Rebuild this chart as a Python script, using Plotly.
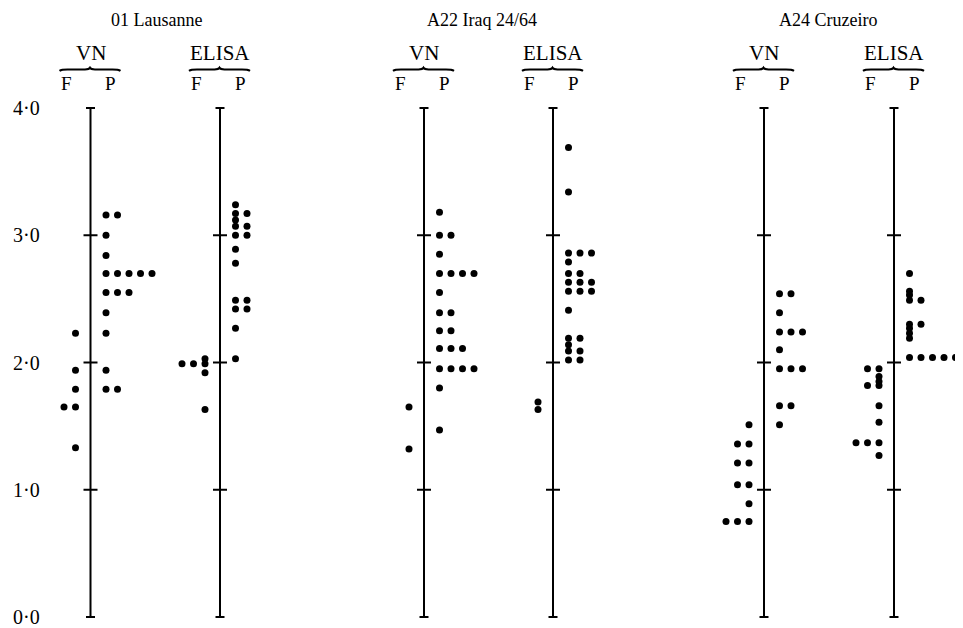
import plotly.graph_objects as go
from collections import Counter

# ---------------- data (log10 titres) ----------------
groups = ["01 Lausanne", "A22 Iraq 24/64", "A24 Cruzeiro"]
methods = ["VN", "ELISA"]
tick_values = [0.0, 1.0, 2.0, 3.0, 4.0]
tick_labels = ["0·0", "1·0", "2·0", "3·0", "4·0"]

lausanne_vn_F = [2.23, 1.94, 1.79, 1.65, 1.65, 1.33]
lausanne_vn_P = [3.16, 3.16, 3.00, 2.84, 2.70, 2.70, 2.70, 2.70, 2.70,
                 2.55, 2.55, 2.55, 2.39, 2.23, 1.94, 1.79, 1.79]
lausanne_elisa_F = [2.03, 1.99, 1.99, 1.99, 1.92, 1.63]
lausanne_elisa_P = [3.24, 3.17, 3.17, 3.12, 3.07, 3.07, 3.00, 3.00, 2.89, 2.78,
                    2.49, 2.49, 2.42, 2.42, 2.27, 2.03]

iraq_vn_F = [1.65, 1.32]
iraq_vn_P = [3.18, 3.00, 3.00, 2.85, 2.70, 2.70, 2.70, 2.70, 2.55, 2.39, 2.39,
             2.25, 2.25, 2.11, 2.11, 2.11, 1.95, 1.95, 1.95, 1.95, 1.80, 1.47]
iraq_elisa_F = [1.69, 1.63]
iraq_elisa_P = [3.69, 3.34, 2.86, 2.86, 2.86, 2.79, 2.70, 2.70, 2.63, 2.63, 2.63,
                2.56, 2.56, 2.56, 2.41, 2.19, 2.19, 2.14, 2.09, 2.09, 2.02, 2.02]

cruzeiro_vn_F = [1.51, 1.36, 1.36, 1.21, 1.21, 1.04, 1.04, 0.89, 0.75, 0.75, 0.75]
cruzeiro_vn_P = [2.54, 2.54, 2.39, 2.24, 2.24, 2.24, 2.10, 1.95, 1.95, 1.95,
                 1.66, 1.66, 1.51]
cruzeiro_elisa_F = [1.95, 1.95, 1.89, 1.85, 1.82, 1.82, 1.66, 1.53,
                    1.37, 1.37, 1.37, 1.27]
cruzeiro_elisa_P = [2.70, 2.56, 2.53, 2.49, 2.49, 2.30, 2.30, 2.27, 2.23, 2.19,
                    2.04, 2.04, 2.04, 2.04, 2.04]

panels = [
    (groups[0], methods[0], lausanne_vn_F, lausanne_vn_P),
    (groups[0], methods[1], lausanne_elisa_F, lausanne_elisa_P),
    (groups[1], methods[0], iraq_vn_F, iraq_vn_P),
    (groups[1], methods[1], iraq_elisa_F, iraq_elisa_P),
    (groups[2], methods[0], cruzeiro_vn_F, cruzeiro_vn_P),
    (groups[2], methods[1], cruzeiro_elisa_F, cruzeiro_elisa_P),
]

# ---------------- layout constants (page pixels) ----------------
PAGE_W, PAGE_H = 963, 628
OFF = 8                      # default body margin of the html page
W, H = PAGE_W - OFF, PAGE_H - OFF
axis_x = [90.5, 220, 424, 553, 764, 894]
title_x = [156, 482, 828]
Y0_PX, Y4_PX = 617, 108          # page rows of 0.0 and 4.0
k = (Y0_PX - Y4_PX) / 4.0
ymax = 4 + (Y4_PX - OFF) / k
ymin = -(PAGE_H - Y0_PX) / k
GAP_P, GAP_F, STEP = 15.5, 15.0, 11.5
FONT = "Liberation Serif"


def py(p):
    """page pixel row -> paper fraction"""
    return 1 - (p - OFF) / H


def stack(values):
    seen = Counter()
    cols = []
    for v in values:
        cols.append(seen[v])
        seen[v] += 1
    return cols


fig = go.Figure()
shapes = []
annotations = []

for idx, (grp, meth, fvals, pvals) in enumerate(panels):
    ax = axis_x[idx]
    fcols = stack(fvals)
    fig.add_trace(go.Scatter(
        x=[ax - GAP_F - STEP * c for c in fcols], y=fvals, mode="markers",
        marker=dict(size=7, color="black"), showlegend=False,
        hoverinfo="y", name=f"{grp} {meth} F"))
    pcols = stack(pvals)
    fig.add_trace(go.Scatter(
        x=[ax + GAP_P + STEP * c for c in pcols], y=pvals, mode="markers",
        marker=dict(size=7, color="black"), showlegend=False,
        hoverinfo="y", name=f"{grp} {meth} P"))
    # vertical axis with ticks
    shapes.append(dict(type="line", xref="x", yref="y", x0=ax, x1=ax,
                       y0=tick_values[0], y1=tick_values[-1],
                       line=dict(color="black", width=2)))
    for tv in tick_values:
        half = 4.5 if tv in (tick_values[0], tick_values[-1]) else 7
        shapes.append(dict(type="line", xref="x", yref="y",
                           x0=ax - half, x1=ax + half, y0=tv, y1=tv,
                           line=dict(color="black", width=2)))
    # method label, brace, F / P
    annotations.append(dict(x=ax, y=py(53), xref="x", yref="paper", text=meth,
                            showarrow=False, xanchor="center", yanchor="middle",
                            font=dict(family=FONT, size=21, color="black")))
    x0b, x1b = ax - 31, ax + 30
    xm = (x0b + x1b) / 2
    yb = py(69.5)
    yb_lo = py(70.8)
    yb_hi = py(67.8)
    shapes.append(dict(type="path", xref="x", yref="paper",
                       path=(f"M {x0b},{yb_lo} Q {x0b+2},{yb} {x0b+8},{yb} "
                             f"L {xm-5},{yb} Q {xm-1},{yb} {xm},{yb_hi} "
                             f"Q {xm+1},{yb} {xm+5},{yb} L {x1b-8},{yb} "
                             f"Q {x1b-2},{yb} {x1b},{yb_lo}"),
                       line=dict(color="black", width=2.2)))
    annotations.append(dict(x=ax - 24, y=py(83), xref="x", yref="paper", text="F",
                            showarrow=False, xanchor="center", yanchor="middle",
                            font=dict(family=FONT, size=19, color="black")))
    annotations.append(dict(x=ax + 20, y=py(83), xref="x", yref="paper", text="P",
                            showarrow=False, xanchor="center", yanchor="middle",
                            font=dict(family=FONT, size=19, color="black")))

# group titles (anchored to the top edge of the drawing area)
for g, cx in zip(groups, title_x):
    annotations.append(dict(x=cx, y=1.0, xref="x", yref="paper", text=g,
                            showarrow=False, xanchor="center", yanchor="top",
                            font=dict(family=FONT, size=18, color="black")))

# y labels
for tv, tl in zip(tick_values, tick_labels):
    annotations.append(dict(x=11, y=tv, xref="x", yref="y", text=tl,
                            showarrow=False, xanchor="left", yanchor="middle",
                            font=dict(family=FONT, size=20, color="black")))

fig.update_layout(
    width=W, height=H, margin=dict(l=0, r=0, t=0, b=0),
    paper_bgcolor="white", plot_bgcolor="white",
    xaxis=dict(range=[OFF, PAGE_W], visible=False, fixedrange=True),
    yaxis=dict(range=[ymin, ymax], visible=False, fixedrange=True),
    shapes=shapes, annotations=annotations, showlegend=False,
)

fig.write_html("out.html")
